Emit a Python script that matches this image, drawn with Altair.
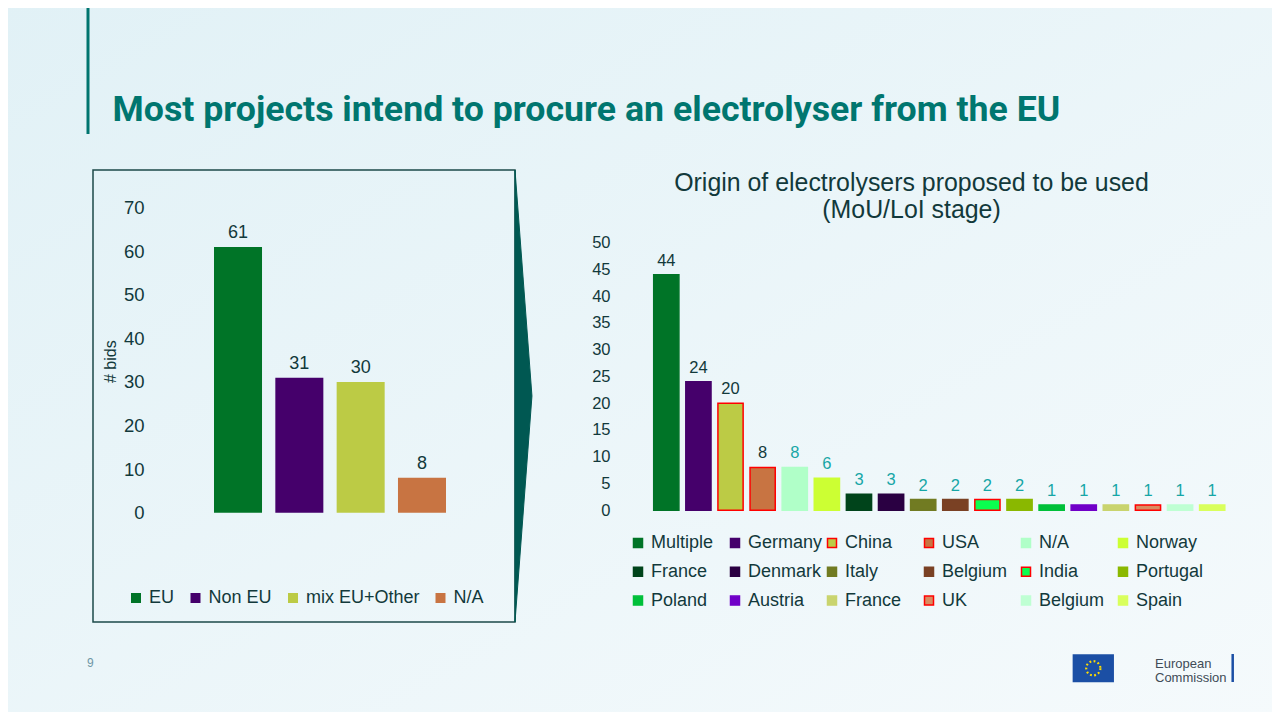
import altair as alt
import pandas as pd

# ---------------- data ----------------
left_categories = ["EU", "Non EU", "mix EU+Other", "N/A"]
left_values = [61, 31, 30, 8]
left_colors = ["#007427", "#45006b", "#bccb45", "#c87442"]
left_ticks = [0, 10, 20, 30, 40, 50, 60, 70]

right_keys = ["Multiple", "Germany", "China", "USA", "N/A", "Norway",
              "France", "Denmark", "Italy", "Belgium", "India", "Portugal",
              "Poland", "Austria", "France ", "UK", "Belgium ", "Spain"]
right_values = [44, 24, 20, 8, 8, 6, 3, 3, 2, 2, 2, 2, 1, 1, 1, 1, 1, 1]
right_colors = ["#007427", "#45006b", "#bccb45", "#c87442", "#b0ffc8", "#ccff33",
                "#00441b", "#2a0042", "#717b22", "#7a4124", "#0aff4f", "#8ab800",
                "#00c03a", "#7000c8", "#c9d46e", "#d98c61", "#bfffd3", "#d9ff5c"]
right_outlined = ["China", "USA", "India", "UK"]
right_ticks = [0, 5, 10, 15, 20, 25, 30, 35, 40, 45, 50]

title_text = "Most projects intend to procure an electrolyser from the EU"
right_title = ["Origin of electrolysers proposed to be used", "(MoU/LoI stage)"]

DARK = "#12393b"
TEAL = "#16a6a6"
FONT = "Liberation Sans"

df_l = pd.DataFrame({"cat": left_categories, "value": left_values})
df_r = pd.DataFrame({"key": right_keys, "value": right_values,
                     "idx": list(range(len(right_keys)))})
one = pd.DataFrame({"a": [1]})

right_strokes = ["#ff0000" if k in right_outlined else c
                 for k, c in zip(right_keys, right_colors)]

# ---------------- left chart ----------------
xl = alt.X("cat:N", sort=left_categories, axis=None,
           scale=alt.Scale(domain=left_categories, range=[206, 438],
                           paddingInner=0.217, paddingOuter=0))
yl = alt.Y("value:Q",
           scale=alt.Scale(domain=[0, 70], range=[504.7, 199.7], nice=False),
           axis=alt.Axis(orient="left", offset=-136, values=left_ticks,
                         domain=False, ticks=False, tickSize=0, labelPadding=0,
                         grid=False, labelFontSize=18.5, labelFont=FONT,
                         labelColor=DARK, title=None, labelFlush=False,
                         labelOverlap=False, zindex=1))
legend_l = alt.Legend(orient="none", legendX=119, legendY=581,
                      direction="horizontal", title=None, symbolType="square",
                      symbolSize=100, labelFontSize=18, labelFont=FONT,
                      labelColor=DARK, columnPadding=11.5, labelOffset=4,
                      padding=0, symbolStrokeWidth=0)
bars_l = alt.Chart(df_l).mark_bar().encode(
    x=xl, y=yl,
    color=alt.Color("cat:N", scale=alt.Scale(domain=left_categories, range=left_colors),
                    legend=legend_l))
text_l = alt.Chart(df_l).mark_text(dy=-9, baseline="alphabetic", fontSize=18,
                                   font=FONT, color=DARK).encode(
    x=xl, y=yl, text="value:Q")
left = alt.layer(bars_l, text_l)

# ---------------- right chart ----------------
xr = alt.X("key:N", sort=right_keys, axis=None,
           scale=alt.Scale(domain=right_keys, range=[645.7, 1216.8],
                           paddingInner=0.215, paddingOuter=0))
yr = alt.Y("value:Q",
           scale=alt.Scale(domain=[0, 50], range=[502.3, 234.5], nice=False),
           axis=alt.Axis(orient="left", offset=-602, values=right_ticks,
                         domain=False, ticks=False, tickSize=0, labelPadding=0,
                         grid=False, labelFontSize=16.5, labelFont=FONT,
                         labelColor=DARK, title=None, labelFlush=False,
                         labelOverlap=False, zindex=1))
legend_r = alt.Legend(orient="none", legendX=621, legendY=526,
                      direction="horizontal", columns=6, gridAlign="all",
                      title=None, symbolType="square", symbolSize=81,
                      labelFontSize=18, labelFont=FONT, labelColor=DARK,
                      columnPadding=-2.9, rowPadding=10.8, labelOffset=4,
                      padding=0, symbolStrokeWidth=1.5)
bars_r = alt.Chart(df_r).mark_bar(strokeWidth=1.5).encode(
    x=xr, y=yr,
    color=alt.Color("key:N", scale=alt.Scale(domain=right_keys, range=right_colors),
                    legend=legend_r),
    stroke=alt.Stroke("key:N", scale=alt.Scale(domain=right_keys, range=right_strokes),
                      legend=legend_r))
text_r = alt.Chart(df_r).mark_text(dy=-9, baseline="alphabetic", fontSize=16.5,
                                   font=FONT).encode(
    x=xr, y=yr, text="value:Q",
    color=alt.condition(alt.datum.idx < 4, alt.value(DARK), alt.value(TEAL)))
right = alt.layer(bars_r, text_r)

# ---------------- decorations ----------------
bg = alt.Chart(one).mark_rect(
    fill=alt.Gradient(gradient="linear",
                      stops=[alt.GradientStop(color="#e1f1f6", offset=0),
                             alt.GradientStop(color="#f5fafc", offset=1)],
                      x1=0, x2=1, y1=0, y2=1)
).encode(x=alt.value(-8), x2=alt.value(1272), y=alt.value(-8), y2=alt.value(712))

accent = alt.Chart(one).mark_rule(color="#00756f", strokeWidth=3).encode(
    x=alt.value(80), y=alt.value(-8), y2=alt.value(126))

title = alt.Chart(one).mark_text(
    text=title_text, align="left", baseline="alphabetic", fontSize=35.7,
    fontWeight="bold", font="Roboto",
    color="#00766f").encode(x=alt.value(104.5), y=alt.value(112.7))

rtitle1 = alt.Chart(one).mark_text(
    text=right_title[0], align="center", baseline="alphabetic", fontSize=24.9,
    font=FONT, color=DARK).encode(x=alt.value(903.5), y=alt.value(183))
rtitle2 = alt.Chart(one).mark_text(
    text=right_title[1], align="center", baseline="alphabetic", fontSize=24.9,
    font=FONT, color=DARK).encode(x=alt.value(903.5), y=alt.value(210))

ytitle_l = alt.Chart(one).mark_text(
    text="# bids", align="center", baseline="middle", angle=270, fontSize=16,
    font=FONT, color=DARK).encode(x=alt.value(102.7), y=alt.value(353.7))

frame = alt.Chart(one).mark_rect(fillOpacity=0, stroke="#1d4a4a", strokeWidth=1.5).encode(
    x=alt.value(85), x2=alt.value(507), y=alt.value(162), y2=alt.value(614))

arrow = alt.Chart(one).mark_point(
    shape="M0,-1L0.075,0L0,1Z", size=452 ** 2, filled=True, fill="#005852",
    stroke="#005852", strokeWidth=1, opacity=1).encode(
    x=alt.value(507), y=alt.value(388))

pagenum = alt.Chart(one).mark_text(
    text="9", align="left", baseline="alphabetic", fontSize=12, font=FONT,
    color="#6f97a6").encode(x=alt.value(79), y=alt.value(659))

flag = alt.Chart(one).mark_point(
    shape="M-1,-0.68L1,-0.68L1,0.68L-1,0.68Z", size=1706, filled=True,
    fill="#1b4fa5", opacity=1).encode(x=alt.value(1085.3), y=alt.value(660.3))
stars = alt.Chart(one).mark_point(
    shape="circle", size=201, filled=False, stroke="#ffdd00", strokeWidth=2.2,
    strokeDash=[1.8, 2.39], opacity=1).encode(x=alt.value(1085.3), y=alt.value(660.3))
ec1 = alt.Chart(one).mark_text(
    text="European", align="left", baseline="alphabetic", fontSize=13, font=FONT,
    color="#404b57").encode(x=alt.value(1147), y=alt.value(660))
ec2 = alt.Chart(one).mark_text(
    text="Commission", align="left", baseline="alphabetic", fontSize=13, font=FONT,
    color="#404b57").encode(x=alt.value(1147), y=alt.value(674))
ecline = alt.Chart(one).mark_rule(color="#1b4fa5", strokeWidth=2.5).encode(
    x=alt.value(1224.7), y=alt.value(646), y2=alt.value(674))

chart = alt.layer(
    bg, accent, title, frame, arrow, ytitle_l, rtitle1, rtitle2, pagenum,
    flag, stars, ec1, ec2, ecline, left, right
).resolve_scale(
    x="independent", y="independent", color="independent", stroke="independent"
).properties(
    width=1264, height=704, padding=0,
    autosize=alt.AutoSizeParams(type="none"), background="white"
).configure_view(stroke=None)

chart.save("out.html", embed_options={"renderer": "svg", "actions": False})
